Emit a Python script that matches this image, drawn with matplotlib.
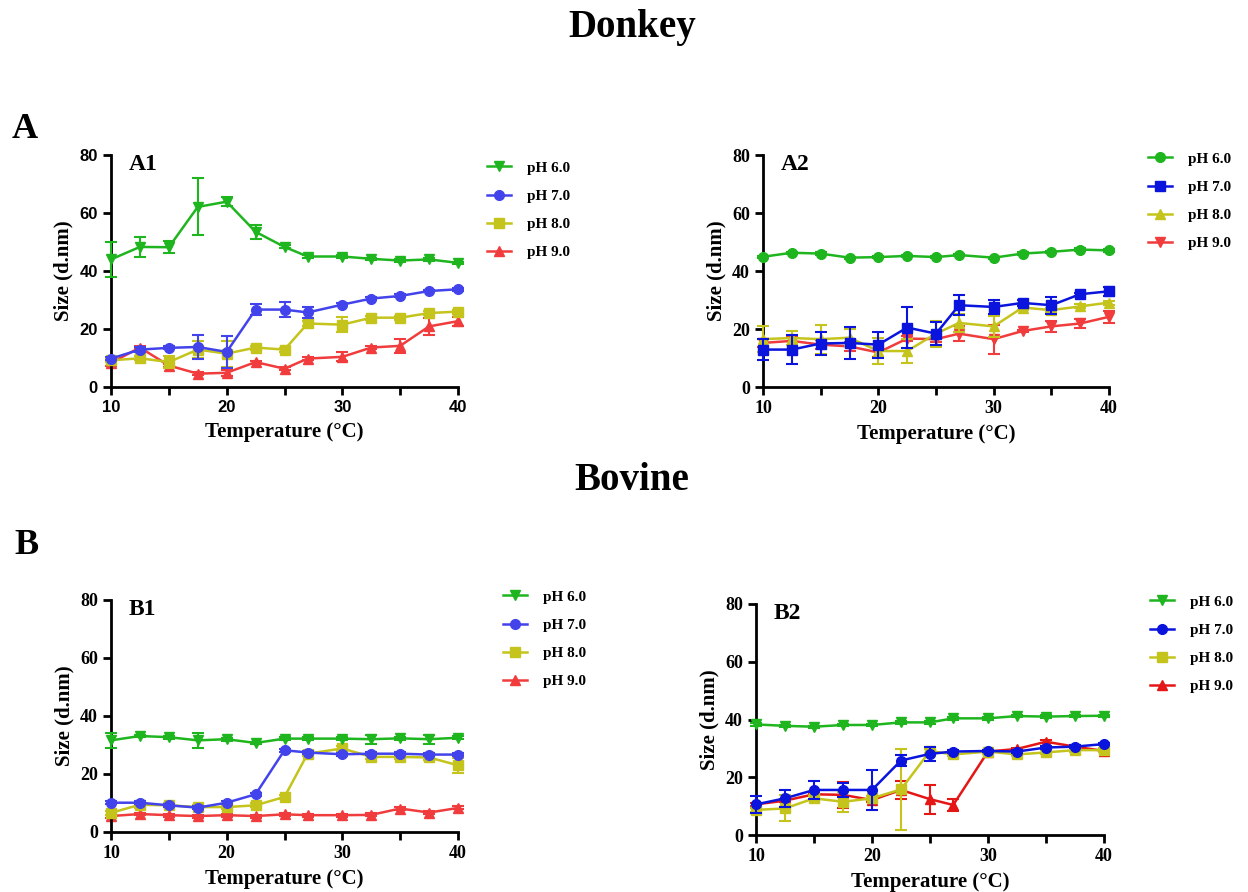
import numpy as np
import matplotlib
matplotlib.use('Agg')
from matplotlib import pyplot as plt
from matplotlib.lines import Line2D

plt.rcParams['font.family'] = 'Liberation Serif'
plt.rcParams['font.weight'] = 'bold'

temp = [10, 12.5, 15, 17.5, 20, 22.5, 25, 27, 30, 32.5, 35, 37.5, 40]
labels = ['pH 6.0', 'pH 7.0', 'pH 8.0', 'pH 9.0']

# A1 - donkey
a1_ph6 = [44.0, 48.3, 48.2, 62.1, 63.9, 53.5, 48.3, 45.0, 45.0, 44.2, 43.6, 44.0, 42.8]
a1_ph6_err = [6.0, 3.5, 2.0, 9.8, 1.5, 2.5, 0.5, 0.5, 0.5, 0.4, 0.4, 0.4, 0.4]
a1_ph7 = [9.8, 12.9, 13.5, 13.8, 12.1, 26.7, 26.7, 25.7, 28.4, 30.5, 31.4, 33.1, 33.7]
a1_ph7_err = [0.5, 1.0, 0.5, 4.0, 5.5, 2.0, 2.5, 2.0, 0.5, 0.5, 0.5, 0.5, 0.5]
a1_ph8 = [9.2, 9.9, 8.6, 12.9, 11.5, 13.6, 12.9, 21.9, 21.5, 23.9, 23.9, 25.5, 26.0]
a1_ph8_err = [0.7, 0.7, 2.0, 3.0, 4.5, 0.7, 0.7, 0.7, 2.5, 0.7, 0.7, 0.7, 0.7]
a1_ph9 = [8.3, 13.6, 7.4, 4.6, 4.9, 8.6, 6.3, 9.8, 10.4, 13.6, 14.2, 20.9, 22.7]
a1_ph9_err = [1.0, 0.5, 0.5, 0.5, 1.0, 0.5, 0.5, 0.5, 1.5, 0.5, 2.5, 3.0, 1.5]

# A2 - donkey
a2_ph6 = [44.9, 46.3, 46.0, 44.6, 44.8, 45.2, 44.8, 45.5, 44.6, 46.0, 46.6, 47.4, 47.1]
a2_ph6_err = [0.4, 0.4, 0.4, 0.4, 0.4, 0.4, 0.4, 0.4, 0.4, 0.4, 0.4, 0.4, 0.4]
a2_ph7 = [12.9, 12.9, 15.0, 15.2, 14.6, 20.5, 18.4, 28.2, 27.6, 29.0, 28.2, 32.0, 33.0]
a2_ph7_err = [3.5, 5.0, 4.0, 5.5, 4.5, 7.0, 4.0, 3.5, 2.5, 1.0, 3.0, 0.5, 1.5]
a2_ph8 = [16.5, 16.9, 16.5, 17.0, 12.4, 12.4, 18.4, 22.1, 20.9, 27.4, 26.5, 27.8, 29.1]
a2_ph8_err = [4.5, 2.5, 5.0, 3.0, 4.5, 4.0, 4.5, 3.0, 3.5, 0.7, 0.7, 0.7, 0.7]
a2_ph9 = [15.2, 15.9, 14.6, 14.0, 11.9, 16.7, 16.5, 18.4, 16.5, 19.3, 20.9, 21.9, 24.2]
a2_ph9_err = [1.5, 1.5, 1.5, 1.5, 1.5, 1.0, 1.0, 2.5, 5.0, 0.5, 2.0, 1.5, 2.0]

# B1 - bovine
b1_ph6 = [31.6, 33.1, 32.7, 31.6, 32.0, 30.7, 32.2, 32.2, 32.2, 32.0, 32.3, 32.0, 32.5]
b1_ph6_err = [2.5, 0.5, 0.5, 2.5, 0.5, 0.5, 0.5, 0.5, 0.5, 1.5, 0.5, 1.5, 0.5]
b1_ph7 = [10.1, 10.1, 9.2, 8.4, 10.1, 13.0, 28.2, 27.4, 26.8, 27.0, 27.0, 26.7, 26.7]
b1_ph7_err = [0.5, 0.5, 0.5, 0.5, 0.5, 0.5, 0.5, 0.5, 0.5, 0.5, 0.5, 0.5, 0.5]
b1_ph8 = [6.6, 9.4, 9.2, 8.6, 8.6, 9.2, 12.1, 27.0, 28.8, 25.9, 25.9, 25.7, 23.0]
b1_ph8_err = [0.7, 1.0, 0.7, 0.7, 0.7, 0.7, 0.7, 0.7, 0.7, 0.7, 0.7, 0.7, 2.5]
b1_ph9 = [5.5, 6.2, 5.8, 5.5, 5.8, 5.5, 6.1, 5.8, 5.8, 5.9, 8.1, 6.7, 8.3]
b1_ph9_err = [0.5, 0.5, 0.5, 0.5, 0.5, 0.5, 0.5, 0.5, 0.5, 0.5, 0.5, 0.5, 0.5]

# B2 - bovine
b2_ph6 = [38.3, 37.8, 37.5, 38.1, 38.1, 39.0, 39.0, 40.4, 40.4, 41.2, 41.0, 41.2, 41.3]
b2_ph6_err = [0.4, 0.4, 0.4, 0.4, 0.4, 0.4, 0.4, 0.4, 0.4, 0.4, 0.4, 0.4, 0.4]
b2_ph7 = [10.6, 12.7, 15.6, 15.6, 15.6, 25.8, 28.1, 28.9, 29.1, 28.9, 30.3, 30.6, 31.5]
b2_ph7_err = [3.0, 3.0, 3.0, 2.5, 7.0, 2.0, 2.5, 0.5, 0.5, 0.5, 0.5, 0.5, 0.5]
b2_ph8 = [8.7, 9.2, 12.7, 11.5, 12.7, 15.8, 29.1, 27.9, 28.9, 27.9, 28.6, 29.4, 29.4]
b2_ph8_err = [0.7, 4.5, 0.7, 3.5, 0.7, 14.0, 0.7, 0.7, 0.7, 0.7, 0.7, 0.7, 0.7]
b2_ph9 = [10.6, 11.9, 14.1, 13.9, 12.1, 15.6, 12.4, 10.4, 28.9, 29.8, 32.3, 30.6, 29.1]
b2_ph9_err = [0.5, 0.5, 0.5, 4.5, 0.5, 3.0, 5.0, 2.0, 0.5, 0.5, 0.5, 0.5, 0.5]

green = '#1fb51f'
yellow = '#c4c41c'
light_blue = '#4343ec'
dark_blue = '#0a14dc'
light_red = '#f03c3c'
dark_red = '#e41616'

fig = plt.figure(figsize=(12.48, 8.92), dpi=100)

panels = [
    ('A1', [111, 155, 458, 387], (487, 161),
     [a1_ph6, a1_ph7, a1_ph8, a1_ph9], [a1_ph6_err, a1_ph7_err, a1_ph8_err, a1_ph9_err],
     ['v', 'o', 's', '^'], [green, light_blue, yellow, light_red], 'Liberation Sans'),
    ('A2', [763, 155, 1109, 387], (1148, 152),
     [a2_ph6, a2_ph7, a2_ph8, a2_ph9], [a2_ph6_err, a2_ph7_err, a2_ph8_err, a2_ph9_err],
     ['o', 's', '^', 'v'], [green, dark_blue, yellow, light_red], 'Liberation Serif'),
    ('B1', [111, 600, 458, 832], (503, 590),
     [b1_ph6, b1_ph7, b1_ph8, b1_ph9], [b1_ph6_err, b1_ph7_err, b1_ph8_err, b1_ph9_err],
     ['v', 'o', 's', '^'], [green, light_blue, yellow, light_red], 'Liberation Serif'),
    ('B2', [756, 604, 1104, 835], (1150, 595),
     [b2_ph6, b2_ph7, b2_ph8, b2_ph9], [b2_ph6_err, b2_ph7_err, b2_ph8_err, b2_ph9_err],
     ['v', 'o', 's', '^'], [green, dark_blue, yellow, dark_red], 'Liberation Serif'),
]

W, H = 1248, 892
zorders = [4, 5, 3, 2]
for name, (l, t, r, b), (lx, ly), series, errs, markers, colors, tickfont in panels:
    ax = fig.add_axes([l / W, 1 - b / H, (r - l) / W, (b - t) / H])
    handles = []
    for i in range(4):
        ax.errorbar(temp, series[i], yerr=errs[i], color=colors[i], marker=markers[i],
                    markersize=7, linewidth=1.8, elinewidth=1.5, capsize=4, capthick=1.5,
                    clip_on=False, zorder=zorders[i])
        handles.append(Line2D([], [], color=colors[i], marker=markers[i], markersize=7,
                              linewidth=1.8, label=labels[i]))
    ax.set_xlim(10, 40)
    ax.set_ylim(0, 80)
    ax.set_xticks([10, 20, 30, 40])
    ax.set_xticks([15, 25, 35], minor=True)
    ax.set_yticks([0, 20, 40, 60, 80])
    for s in ['top', 'right']:
        ax.spines[s].set_visible(False)
    for s in ['left', 'bottom']:
        ax.spines[s].set_linewidth(2)
    ax.tick_params(which='major', length=6, width=2, direction='out')
    ax.tick_params(which='minor', length=6, width=2, direction='out')
    for lab in ax.get_xticklabels() + ax.get_yticklabels():
        lab.set_fontfamily(tickfont)
        lab.set_fontweight('bold')
        lab.set_fontsize(13 if tickfont == 'Liberation Serif' else 12)
    ax.set_xlabel('Temperature (°C)', fontsize=15, fontweight='bold', labelpad=5)
    ax.set_ylabel('Size (d.nm)', fontsize=15, fontweight='bold', labelpad=4)
    ax.text(0.05, 0.96, name, transform=ax.transAxes, fontsize=17, fontweight='bold',
            va='center', ha='left')
    ax.legend(handles=handles, loc='upper left', bbox_to_anchor=(lx / W, 1 - ly / H),
              bbox_transform=fig.transFigure, frameon=False, fontsize=11,
              handlelength=1.6, handletextpad=1.0, labelspacing=0.95,
              borderpad=0, borderaxespad=0)

fig.text(632 / W, 1 - 28 / H, 'Donkey', ha='center', va='center', fontsize=28, fontweight='bold')
fig.text(632 / W, 1 - 480 / H, 'Bovine', ha='center', va='center', fontsize=28, fontweight='bold')
fig.text(12 / W, 1 - 130 / H, 'A', ha='left', va='center', fontsize=26, fontweight='bold')
fig.text(14 / W, 1 - 545 / H, 'B', ha='left', va='center', fontsize=26, fontweight='bold')

plt.savefig('out.png', dpi=100)
